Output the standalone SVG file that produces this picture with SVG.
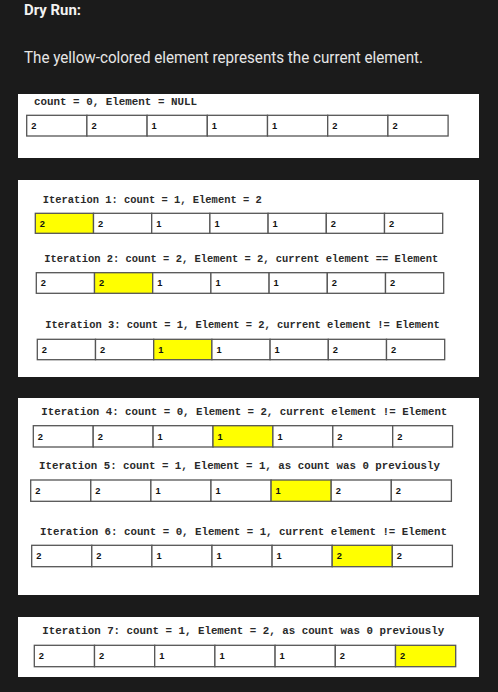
<svg xmlns="http://www.w3.org/2000/svg" width="498" height="692" viewBox="0 0 498 692">
<style>
.bg{fill:#1b1b1b}
.panel{fill:#ffffff}
.title{font-family:"Roboto","Open Sans",sans-serif;font-weight:bold;font-size:14.5px;fill:#f2f2f2}
.sub{font-family:"Roboto","Open Sans",sans-serif;font-size:16px;fill:#e6e6e6}
.lbl{font-family:"Liberation Mono","Courier New",monospace;font-weight:bold;font-size:10.6px;fill:#2a2a2a}
.c{fill:#ffffff;stroke:#555555;stroke-width:1.3}
.y{fill:#ffff00;stroke:#555555;stroke-width:1.3}
.d{font-family:"Liberation Sans",Arial,sans-serif;font-weight:bold;font-size:9.3px;fill:#111111}
</style>
<rect class="bg" x="0" y="0" width="498" height="692"/>
<g id="header">
<text class="title" x="24" y="15" textLength="57" lengthAdjust="spacingAndGlyphs">Dry Run:</text>
<text class="sub" x="24" y="63.3" textLength="399" lengthAdjust="spacingAndGlyphs">The yellow-colored element represents the current element.</text>
</g>
<g id="panels">
<rect class="panel" x="18" y="94" width="461" height="64"/>
<rect class="panel" x="18" y="180" width="461" height="197"/>
<rect class="panel" x="18" y="398" width="461" height="197"/>
<rect class="panel" x="18" y="617" width="461" height="60"/>
</g>
<g id="init">
<text class="lbl" x="34" y="105" textLength="163" lengthAdjust="spacingAndGlyphs">count = 0, Element = NULL</text>
<g transform="translate(26.7,115.3)">
<rect class="c" x="0" y="0" width="60.2" height="20.7"/><rect class="c" x="60.2" y="0" width="60.2" height="20.7"/><rect class="c" x="120.4" y="0" width="60.2" height="20.7"/><rect class="c" x="180.6" y="0" width="60.2" height="20.7"/><rect class="c" x="240.8" y="0" width="60.2" height="20.7"/><rect class="c" x="301" y="0" width="60.2" height="20.7"/><rect class="c" x="361.2" y="0" width="60.2" height="20.7"/>
<text class="d" x="4.5" y="13.9">2</text><text class="d" x="64.7" y="13.9">2</text><text class="d" x="124.9" y="13.9">1</text><text class="d" x="185.1" y="13.9">1</text><text class="d" x="245.3" y="13.9">1</text><text class="d" x="305.5" y="13.9">2</text><text class="d" x="365.7" y="13.9">2</text>
</g>
</g>
<g id="iter1">
<text class="lbl" x="42.7" y="202.7" textLength="219" lengthAdjust="spacingAndGlyphs">Iteration 1: count = 1, Element = 2</text>
<g transform="translate(35.3,213.3)">
<rect class="y" x="0" y="0" width="58.2" height="20"/><rect class="c" x="58.2" y="0" width="58.2" height="20"/><rect class="c" x="116.4" y="0" width="58.2" height="20"/><rect class="c" x="174.6" y="0" width="58.2" height="20"/><rect class="c" x="232.8" y="0" width="58.2" height="20"/><rect class="c" x="291" y="0" width="58.2" height="20"/><rect class="c" x="349.2" y="0" width="58.2" height="20"/>
<text class="d" x="4.5" y="13.5">2</text><text class="d" x="62.7" y="13.5">2</text><text class="d" x="120.9" y="13.5">1</text><text class="d" x="179.1" y="13.5">1</text><text class="d" x="237.3" y="13.5">1</text><text class="d" x="295.5" y="13.5">2</text><text class="d" x="353.7" y="13.5">2</text>
</g>
</g>
<g id="iter2">
<text class="lbl" x="44.3" y="262" textLength="394" lengthAdjust="spacingAndGlyphs">Iteration 2: count = 2, Element = 2, current element == Element</text>
<g transform="translate(36.3,272.7)">
<rect class="c" x="0" y="0" width="58.2" height="20.6"/><rect class="y" x="58.2" y="0" width="58.2" height="20.6"/><rect class="c" x="116.4" y="0" width="58.2" height="20.6"/><rect class="c" x="174.6" y="0" width="58.2" height="20.6"/><rect class="c" x="232.8" y="0" width="58.2" height="20.6"/><rect class="c" x="291" y="0" width="58.2" height="20.6"/><rect class="c" x="349.2" y="0" width="58.2" height="20.6"/>
<text class="d" x="4.5" y="13.8">2</text><text class="d" x="62.7" y="13.8">2</text><text class="d" x="120.9" y="13.8">1</text><text class="d" x="179.1" y="13.8">1</text><text class="d" x="237.3" y="13.8">1</text><text class="d" x="295.5" y="13.8">2</text><text class="d" x="353.7" y="13.8">2</text>
</g>
</g>
<g id="iter3">
<text class="lbl" x="45.3" y="328.3" textLength="394.5" lengthAdjust="spacingAndGlyphs">Iteration 3: count = 1, Element = 2, current element != Element</text>
<g transform="translate(37.3,339.3)">
<rect class="c" x="0" y="0" width="58.2" height="20.4"/><rect class="c" x="58.2" y="0" width="58.2" height="20.4"/><rect class="y" x="116.4" y="0" width="58.2" height="20.4"/><rect class="c" x="174.6" y="0" width="58.2" height="20.4"/><rect class="c" x="232.8" y="0" width="58.2" height="20.4"/><rect class="c" x="291" y="0" width="58.2" height="20.4"/><rect class="c" x="349.2" y="0" width="58.2" height="20.4"/>
<text class="d" x="4.5" y="13.7">2</text><text class="d" x="62.7" y="13.7">2</text><text class="d" x="120.9" y="13.7">1</text><text class="d" x="179.1" y="13.7">1</text><text class="d" x="237.3" y="13.7">1</text><text class="d" x="295.5" y="13.7">2</text><text class="d" x="353.7" y="13.7">2</text>
</g>
</g>
<g id="iter4">
<text class="lbl" x="41.3" y="414.7" textLength="406" lengthAdjust="spacingAndGlyphs">Iteration 4: count = 0, Element = 2, current element != Element</text>
<g transform="translate(33.3,425.7)">
<rect class="c" x="0" y="0" width="59.9" height="21.3"/><rect class="c" x="59.9" y="0" width="59.9" height="21.3"/><rect class="c" x="119.8" y="0" width="59.9" height="21.3"/><rect class="y" x="179.7" y="0" width="59.9" height="21.3"/><rect class="c" x="239.6" y="0" width="59.9" height="21.3"/><rect class="c" x="299.5" y="0" width="59.9" height="21.3"/><rect class="c" x="359.4" y="0" width="59.9" height="21.3"/>
<text class="d" x="4.5" y="14.2">2</text><text class="d" x="64.4" y="14.2">2</text><text class="d" x="124.3" y="14.2">1</text><text class="d" x="184.2" y="14.2">1</text><text class="d" x="244.1" y="14.2">1</text><text class="d" x="304" y="14.2">2</text><text class="d" x="363.9" y="14.2">2</text>
</g>
</g>
<g id="iter5">
<text class="lbl" x="39" y="469.3" textLength="401" lengthAdjust="spacingAndGlyphs">Iteration 5: count = 1, Element = 1, as count was 0 previously</text>
<g transform="translate(30.7,480)">
<rect class="c" x="0" y="0" width="60.1" height="21.3"/><rect class="c" x="60.1" y="0" width="60.1" height="21.3"/><rect class="c" x="120.2" y="0" width="60.1" height="21.3"/><rect class="c" x="180.3" y="0" width="60.1" height="21.3"/><rect class="y" x="240.4" y="0" width="60.1" height="21.3"/><rect class="c" x="300.5" y="0" width="60.1" height="21.3"/><rect class="c" x="360.6" y="0" width="60.1" height="21.3"/>
<text class="d" x="4.5" y="14.2">2</text><text class="d" x="64.6" y="14.2">2</text><text class="d" x="124.7" y="14.2">1</text><text class="d" x="184.8" y="14.2">1</text><text class="d" x="244.9" y="14.2">1</text><text class="d" x="305" y="14.2">2</text><text class="d" x="365.1" y="14.2">2</text>
</g>
</g>
<g id="iter6">
<text class="lbl" x="40" y="534.7" textLength="407" lengthAdjust="spacingAndGlyphs">Iteration 6: count = 0, Element = 1, current element != Element</text>
<g transform="translate(31.7,545.3)">
<rect class="c" x="0" y="0" width="60.1" height="21.4"/><rect class="c" x="60.1" y="0" width="60.1" height="21.4"/><rect class="c" x="120.2" y="0" width="60.1" height="21.4"/><rect class="c" x="180.3" y="0" width="60.1" height="21.4"/><rect class="c" x="240.4" y="0" width="60.1" height="21.4"/><rect class="y" x="300.5" y="0" width="60.1" height="21.4"/><rect class="c" x="360.6" y="0" width="60.1" height="21.4"/>
<text class="d" x="4.5" y="14.2">2</text><text class="d" x="64.6" y="14.2">2</text><text class="d" x="124.7" y="14.2">1</text><text class="d" x="184.8" y="14.2">1</text><text class="d" x="244.9" y="14.2">1</text><text class="d" x="305" y="14.2">2</text><text class="d" x="365.1" y="14.2">2</text>
</g>
</g>
<g id="iter7">
<text class="lbl" x="42.3" y="634.3" textLength="402" lengthAdjust="spacingAndGlyphs">Iteration 7: count = 1, Element = 2, as count was 0 previously</text>
<g transform="translate(34.3,645.3)">
<rect class="c" x="0" y="0" width="60.2" height="21.4"/><rect class="c" x="60.2" y="0" width="60.2" height="21.4"/><rect class="c" x="120.4" y="0" width="60.2" height="21.4"/><rect class="c" x="180.6" y="0" width="60.2" height="21.4"/><rect class="c" x="240.8" y="0" width="60.2" height="21.4"/><rect class="c" x="301" y="0" width="60.2" height="21.4"/><rect class="y" x="361.2" y="0" width="60.2" height="21.4"/>
<text class="d" x="4.5" y="14.2">2</text><text class="d" x="64.7" y="14.2">2</text><text class="d" x="124.9" y="14.2">1</text><text class="d" x="185.1" y="14.2">1</text><text class="d" x="245.3" y="14.2">1</text><text class="d" x="305.5" y="14.2">2</text><text class="d" x="365.7" y="14.2">2</text>
</g>
</g>
</svg>
